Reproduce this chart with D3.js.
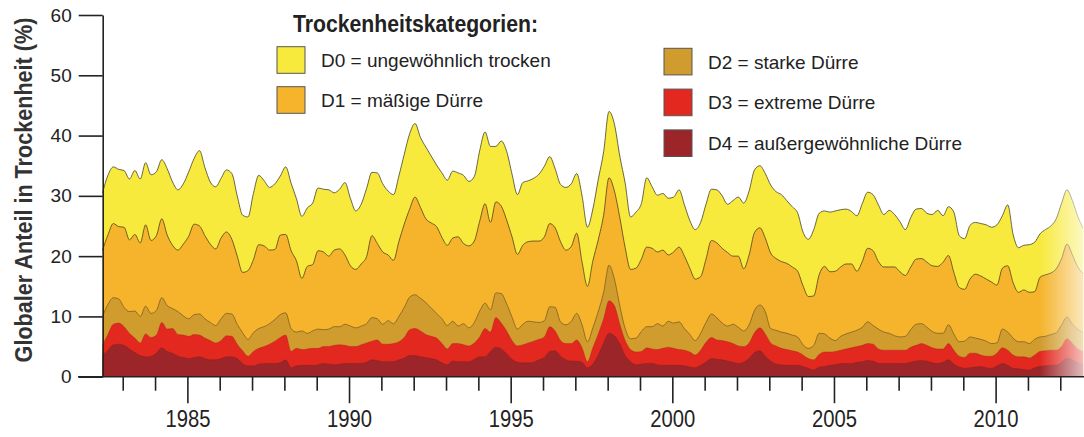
<!DOCTYPE html>
<html>
<head>
<meta charset="utf-8">
<script src="https://cdn.jsdelivr.net/npm/d3@7"></script>
<style>
body { margin: 0; background: #fff; }
svg text { font-family: "Liberation Sans", Arial, sans-serif; fill: #222; }
</style>
</head>
<body>
<svg id="chart"></svg>
<script>
var width = 1084;
var height = 437;

// time grid: two-month steps starting May 1982
var startYear = 1982.375;
var stepYears = 1 / 6;

// cumulative shares in % (D0 = D0..D4, D1 = D1..D4, ...)
var d0Values = [
    30.5, 33.4, 34.8, 34.4, 34.2, 32.8, 34.2, 32.8, 35.5, 33.5,
    34, 36, 34.5, 32.3, 31, 32, 34, 36.2, 37.5, 34.7,
    32.3, 31.5, 32.9, 34.3, 33.7, 30, 26.8, 26.5, 30.4, 33.4,
    32.5, 31.4, 32, 33.3, 34.8, 32.1, 29.5, 26.6, 28, 28.8,
    31.3, 31.1, 31, 30.5, 31.1, 32.2, 29.6, 27.5, 28.6, 31.2,
    33.9, 33.8, 32, 30.8, 30.2, 33.3, 36.9, 40.3, 42, 39.7,
    38.1, 36.6, 35.1, 33.8, 32.6,
    34.1, 33.8, 33.4, 32.4, 33.2, 37.5, 40.6, 38.2, 38.2, 39.1,
    37.4, 33.6, 30.2, 32.2, 32.5, 32.9, 33.6, 34.9, 36.5, 34.5,
    31.9, 31.4, 32, 33.7, 30, 24.8, 27.8, 32.7, 37.3, 44,
    41.9, 36.6, 32.1, 26.5, 27.3, 28.7, 33, 31.5, 30.1, 30.4,
    29.6, 29.8, 31, 28.5, 25.9, 24.4, 25.6, 28.6, 31.1, 31,
    30, 28.6, 29.2, 29.8, 28.8, 30.8, 34.3, 35, 33.7, 31.8,
    30.7, 30.2, 29.2, 28.2, 27.2,
    24, 22.8, 24.4, 27.1, 27.5, 27.3, 27.5, 27.7, 27.8, 27.4,
    26.7, 28.7, 30.6, 30.2, 28.5, 26.9, 27.6, 26.9, 25.7, 24.4,
    26.4, 27.8, 27.9, 27.1, 26.9, 27.6, 26.7, 28.2, 27.3, 23.4,
    22.9, 25.1, 25.6, 25.4, 25.2, 24.8, 25.2, 26.7, 28.5, 23.6,
    21.4, 21.8, 21.9, 22.3, 23.7, 24.4, 25, 26.2, 28.8, 31,
    29.2, 26.6, 24.6
];

var d1Values = [
    21, 23.5, 25.4, 24.9, 24.8, 22.7, 23.6, 22.2, 25.2, 22.6,
    23.4, 26.2, 23.5, 21.8, 21, 22, 23.3, 25.3, 25, 23.4,
    22, 21.2, 23, 24, 22.8, 20, 17.3, 17.6, 19.4, 21.9,
    21.7, 21, 21.1, 23.5, 23.6, 20.9, 19.2, 16.3, 18.3, 18.6,
    20.9, 20.7, 20, 21, 21.2, 20.2, 18.4, 17.8, 18.7, 19.9,
    23.4, 22.1, 20.7, 20.2, 19.3, 22.4, 25.3, 27.8, 29.8, 28.1,
    26.2, 25.5, 24.9, 23.1, 21.8,
    23, 23.2, 22.1, 21.7, 22.5, 25.8, 28.7, 25.6, 29, 28.3,
    26, 23.2, 20.3, 21.8, 22.4, 22.5, 22.5, 23.2, 25.4, 24.7,
    22.4, 21, 21.6, 23.8, 19, 15, 19.2, 22.7, 26.8, 33,
    30.8, 26.4, 21.4, 17.8, 18, 19.5, 21.5, 21.3, 20.7, 21,
    20.2, 20.7, 21.5, 20, 18, 16.2, 16.6, 19.5, 22.6, 22.2,
    21.3, 20.6, 20, 20, 17.9, 20.2, 23.9, 24.7, 23, 20.5,
    19.6, 19.1, 18.8, 18.2, 17.5,
    15.1, 13.3, 13.4, 16.9, 18.3, 17.4, 17.5, 18.2, 18.7, 18.7,
    17.5, 19.1, 21.3, 20.9, 19.1, 18.2, 18.2, 18.2, 17.4, 16.8,
    18.2, 19.5, 19.6, 19, 18.4, 18.3, 19, 20.1, 17.3, 14.8,
    14.5, 16.2, 17, 16.7, 16.2, 15.7, 15.2, 18, 18.4, 15.6,
    14, 14.4, 14, 14.1, 16.5, 16.9, 17.2, 17.9, 19.6, 22,
    20.2, 18.2, 17.1
];

var d2Values = [
    10, 12, 13.1, 12.9, 11.5, 10.8, 10.9, 10, 11.7, 10.5,
    11, 13.1, 11.8, 11.3, 10.8, 10.1, 9.6, 10.3, 10.4, 9.6,
    9, 8.5, 9.6, 10.5, 10.4, 8.7, 7.3, 6.2, 7.3, 8,
    8.3, 8.8, 9.5, 10.3, 10.6, 8, 7.4, 7.6, 7.2, 7.6,
    7.9, 7.8, 7.9, 8.3, 8.3, 8.7, 8.4, 8.1, 8.4, 8.8,
    9.8, 9.6, 8.7, 9.3, 8.8, 10, 11.5, 13.2, 13.6, 13,
    12.3, 11.4, 10.5, 9.6, 8.5,
    9.2, 8.4, 8.8, 8.1, 9, 10.9, 12.2, 11.1, 13.9, 13.8,
    12.1, 9.9, 7.9, 8.7, 9.2, 9.1, 9, 9.3, 11.6, 11.5,
    9.1, 8.6, 9.2, 10.5, 8.6, 5.8, 8.1, 10.8, 14, 18.5,
    16.2, 11.8, 8, 6.3, 6.4, 7.5, 8.3, 8.3, 8.8, 8.4,
    9.2, 8.9, 9.1, 8, 7, 6, 7.2, 9, 10.4, 9.8,
    8.9, 8.4, 8.7, 8.2, 7.6, 8.6, 11, 11.9, 10.8, 8,
    7.7, 7.4, 7.2, 6.9, 6.6,
    5.3, 4.7, 5.2, 7.2, 7.1, 6.4, 6, 6.7, 7.1, 7.4,
    7.7, 8.2, 9.1, 8.5, 7.9, 7.4, 7.2, 6.8, 6.6, 6.7,
    7.8, 8.7, 8.8, 8.2, 7.5, 7.2, 7.2, 8.6, 7.1, 5.8,
    5.9, 6.6, 6.4, 6.2, 5.9, 5.5, 5.6, 7.9, 7.4, 6.4,
    5.8, 5.8, 5.5, 6.2, 6.6, 6.7, 7, 7.3, 8.6, 9.9,
    8.7, 7.9, 7.3
];

var d3Values = [
    5.3, 7, 8.7, 8.9, 8.3, 7.2, 6.4, 5.6, 7.1, 6.5,
    6.9, 9, 7.9, 8, 7, 6.9, 6.7, 7, 6.9, 6.4,
    6, 5.6, 6, 6.8, 6.7, 5.4, 4.3, 3.4, 4.2, 4.7,
    5, 5.4, 5.9, 6.5, 6.9, 4.2, 4.7, 4.5, 4.6, 4.7,
    4.7, 5, 5, 5.2, 5.3, 5.2, 5, 5, 5.3, 5.6,
    5.9, 6.1, 5.4, 5.4, 5.5, 5.8, 6.5, 7.8, 8, 7.6,
    7, 6.7, 6.4, 5.5, 4.6,
    5.5, 5.5, 5.3, 5.1, 5.6, 6.6, 8, 7.4, 9.8, 8.9,
    7.6, 6, 5.1, 5.3, 5.6, 5.9, 6.2, 6.6, 8.3, 7.6,
    6, 5.5, 5.5, 6.1, 4.8, 2.5, 4.8, 7.1, 9.6, 12.6,
    11.8, 8.7, 6, 4.5, 4.1, 4.2, 4.8, 4.6, 4.5, 4.7,
    4.9, 4.7, 4.5, 4.4, 4.1, 3.6, 4.4, 5.7, 6.5, 6.1,
    6, 5.8, 5.5, 5.1, 5, 5.6, 7.3, 8.1, 7.1, 5.6,
    5.1, 4.7, 4.5, 4.3, 4.1,
    3.6, 3, 2.8, 3.7, 4.1, 4.1, 4.2, 4.4, 4.6, 4.8,
    5, 5.2, 5.5, 5.4, 4.6, 4.4, 4.4, 4.4, 4.4, 4.4,
    4.9, 5.2, 5.5, 5.2, 4.8, 4.6, 4.6, 5.5, 4.4, 3.4,
    3.2, 3.9, 3.9, 3.6, 3.4, 3.4, 3.9, 4.8, 4.4, 3.6,
    3.3, 3.3, 3.1, 3.6, 4.2, 4.3, 4.4, 4.4, 5, 6.3,
    5.5, 4.6, 4.2
];

var d4Values = [
    3.6, 4.4, 5.3, 5.4, 5.2, 4.6, 4, 3.5, 3.3, 3.4,
    3.9, 4.8, 4.2, 3.9, 3.4, 3.2, 3, 3.2, 3.3, 3,
    2.8, 2.8, 3, 3.3, 3.3, 3, 2.2, 1.8, 1.8, 2.1,
    2.2, 2.2, 2.2, 2.3, 2.8, 1.5, 1.8, 1.9, 1.9, 1.9,
    2, 2.2, 2.1, 2, 2.1, 2.2, 2.2, 2.2, 2.2, 2.4,
    2.8, 2.7, 2.5, 2.5, 2.5, 2.8, 3.1, 3.5, 3.5, 3.3,
    3.2, 3, 2.8, 2.3, 2,
    2.6, 2.5, 2.5, 2.5, 2.9, 3.3, 3.3, 4.2, 4.9, 4.6,
    3.8, 2.9, 2.4, 2.3, 2.3, 2.4, 2.8, 3.2, 4.2, 4.3,
    3.4, 2.8, 2.6, 2.6, 2.4, 1.5, 2.1, 3.6, 5.6, 7.2,
    6.8, 5.5, 3.5, 2.5, 2, 2.1, 2.2, 2.2, 2, 1.9,
    1.9, 1.9, 1.9, 1.8, 1.6, 1.5, 1.9, 2.4, 3, 2.9,
    2.8, 2.6, 2.4, 2.2, 2.4, 3, 4, 4.3, 3.4, 2.6,
    2.1, 2, 1.9, 1.9, 1.9,
    1.7, 1.4, 1.1, 1.6, 1.7, 1.9, 2, 2.2, 2.2, 2.2,
    2.4, 2.5, 2.7, 2.6, 2.2, 2.2, 2.2, 2.2, 2.2, 2.2,
    2.4, 2.6, 2.7, 2.6, 2.3, 2.2, 2.4, 2.8, 2.1, 1.6,
    1.4, 1.5, 1.6, 1.7, 1.5, 1.4, 1.8, 2.2, 1.9, 1.4,
    1.3, 1.2, 1.1, 1.5, 1.7, 1.8, 1.9, 1.9, 2.4, 3.1,
    2.8, 2.3, 2.1
];

var categoryLabels = [
    "D0 = ungewöhnlich trocken",
    "D1 = mäßige Dürre",
    "D2 = starke Dürre",
    "D3 = extreme Dürre",
    "D4 = außergewöhnliche Dürre"
];
var categoryColors = ["#f7ea3c", "#f5b42c", "#d09c2e", "#e3291f", "#9c2529"];
var outlineColors = ["#3d3a2a", "#4a3a20", "#5e4720", "#9a1c14", "#7a1c1f"];

var yTicks = [0, 10, 20, 30, 40, 50, 60];
var yearTicks = d3.range(1983, 2013);
var labelYears = [1985, 1990, 1995, 2000, 2005, 2010];

var seriesList = [d0Values, d1Values, d2Values, d3Values, d4Values];
var times = d0Values.map(function(d, i) { return startYear + i * stepYears; });

var svg = d3.select("#chart")
    .attr("width", width)
    .attr("height", height);

var xScale = d3.scaleLinear()
    .domain([1982, 2013])
    .range([90.4, 1092.6]);

var yScale = d3.scaleLinear()
    .domain([0, 60])
    .range([376.7, 15]);

// stacked areas, biggest first so the smaller ones sit on top
var area = d3.area()
    .x(function(d, i) { return xScale(times[i]); })
    .y0(yScale(0))
    .y1(function(d) { return yScale(d); })
    .curve(d3.curveMonotoneX);

var line = d3.line()
    .x(function(d, i) { return xScale(times[i]); })
    .y(function(d) { return yScale(d); })
    .curve(d3.curveMonotoneX);

var marks = svg.append("g").attr("id", "marks");

seriesList.forEach(function(values, i) {
    marks.append("path")
        .attr("d", area(values))
        .attr("fill", categoryColors[i]);
    marks.append("path")
        .attr("d", line(values))
        .attr("fill", "none")
        .attr("stroke", outlineColors[i])
        .attr("stroke-opacity", i < 3 ? 0.85 : 0.5)
        .attr("stroke-width", i < 2 ? 0.9 : 0.7);
});

// scan fade on the right edge
var defs = svg.append("defs");
var fade = defs.append("linearGradient")
    .attr("id", "fade")
    .attr("x1", "0").attr("x2", "1").attr("y1", "0").attr("y2", "0");
fade.append("stop").attr("offset", "0").attr("stop-color", "#fff").attr("stop-opacity", 0);
fade.append("stop").attr("offset", "1").attr("stop-color", "#fff").attr("stop-opacity", 0.7);

svg.append("rect")
    .attr("x", 1040)
    .attr("y", 0)
    .attr("width", 44)
    .attr("height", 400)
    .attr("fill", "url(#fade)");

// y-axis
var yAxis = svg.append("g")
    .attr("transform", "translate(102.7,0)")
    .call(d3.axisLeft(yScale)
        .tickValues(yTicks)
        .tickSize(24)
        .tickSizeOuter(0)
        .tickPadding(7));

yAxis.attr("font-family", null).attr("font-size", null);
yAxis.selectAll("line, path").attr("stroke", "#222").attr("stroke-width", 1.6);
yAxis.selectAll("text").style("font-size", "19px");

// x-axis
svg.append("line")
    .attr("x1", 78)
    .attr("x2", width)
    .attr("y1", yScale(0))
    .attr("y2", yScale(0))
    .attr("stroke", "#222")
    .attr("stroke-width", 1.6);

var xAxis = svg.append("g")
    .attr("transform", "translate(0," + yScale(0) + ")")
    .call(d3.axisBottom(xScale)
        .tickValues(yearTicks)
        .tickSize(14)
        .tickFormat(function(d) {
            return labelYears.indexOf(d) >= 0 ? d : "";
        }));

xAxis.attr("font-family", null).attr("font-size", null);
xAxis.select(".domain").remove();
xAxis.selectAll("line").attr("stroke", "#222").attr("stroke-width", 1.6);
xAxis.selectAll(".tick")
    .filter(function(d) { return labelYears.indexOf(d) >= 0; })
    .select("line")
        .attr("y2", 26.5);
xAxis.selectAll("text")
    .attr("y", 50)
    .attr("dy", null)
    .style("font-size", "23px")
    .filter(function(d) { return labelYears.indexOf(d) >= 0; })
        .attr("textLength", 45)
        .attr("lengthAdjust", "spacingAndGlyphs");

// y-axis title (narrowed with a scale so it keeps the tall letters)
svg.append("text")
    .attr("transform", "translate(32,190) rotate(-90) scale(0.9,1)")
    .attr("text-anchor", "middle")
    .style("font-size", "24px")
    .style("font-weight", "bold")
    .style("fill", "#333")
    .text("Globaler Anteil  in Trockenheit (%)");

// legend
var legend = svg.append("g").attr("id", "legend");

legend.append("text")
    .attr("x", 293)
    .attr("y", 31.7)
    .attr("textLength", 245)
    .attr("lengthAdjust", "spacingAndGlyphs")
    .style("font-size", "23px")
    .style("font-weight", "bold")
    .text("Trockenheitskategorien:");

var items = legend.selectAll(".item")
    .data(categoryLabels)
    .enter().append("g")
    .attr("class", "item")
    .attr("transform", function(d, i) {
        var x = i < 2 ? 277 : 664;
        var y = i < 2 ? 46.7 + i * 40 : 48.3 + (i - 2) * 40.8;
        return "translate(" + x + "," + y + ")";
    });

items.append("rect")
    .attr("width", 28)
    .attr("height", 26.6)
    .attr("fill", function(d, i) { return categoryColors[i]; })
    .attr("stroke", "#555")
    .attr("stroke-width", 1);

items.append("text")
    .attr("x", 44)
    .attr("y", 20.3)
    .style("font-size", "19px")
    .text(function(d) { return d; });
</script>
</body>
</html>
